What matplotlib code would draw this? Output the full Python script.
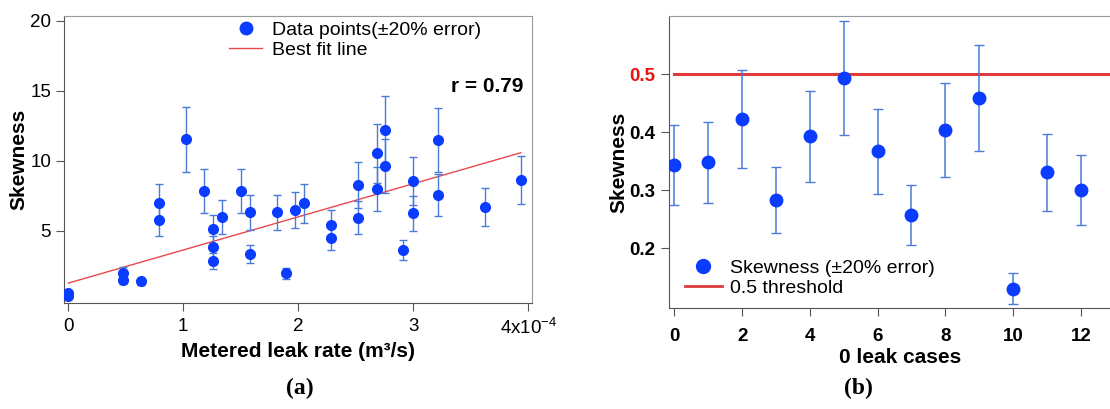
import matplotlib
matplotlib.use("Agg")
import matplotlib.pyplot as plt
from matplotlib.lines import Line2D
import numpy as np

plt.rcParams['font.family'] = ['Liberation Sans', 'DejaVu Sans']
plt.rcParams['mathtext.fontset'] = 'custom'
plt.rcParams['mathtext.rm'] = 'Liberation Sans'
plt.rcParams['mathtext.it'] = 'Liberation Sans:italic'
plt.rcParams['mathtext.bf'] = 'Liberation Sans:bold'

# (a) metered leak rate (x1e-4 m3/s) vs skewness
leak_rate = [0, 0, 0.473, 0.473, 0.63, 0.789, 0.789, 1.023, 1.183, 1.261, 1.261, 1.261,
             1.339, 1.499, 1.58, 1.58, 1.812, 1.89, 1.971, 2.047, 2.284, 2.284, 2.522,
             2.522, 2.682, 2.682, 2.757, 2.757, 2.913, 2.995, 2.995, 3.215, 3.215, 3.623, 3.934]
skew_a = [0.35, 0.55, 2.0, 1.46, 1.38, 6.96, 5.74, 11.53, 7.86, 5.1, 3.84, 2.84,
          6.0, 7.86, 6.31, 3.34, 6.31, 1.95, 6.46, 6.96, 5.38, 4.5, 8.26,
          5.93, 10.55, 7.98, 12.17, 9.64, 3.62, 8.57, 6.26, 11.46, 7.57, 6.69, 8.62]
fit_x = [0, 3.934]
fit_y = [1.26, 10.57]
xticks_a = [0, 1, 2, 3, 4]
xticklabels_a = ['0', '1', '2', '3', r'4x10$^{-4}$']
yticks_a = [5, 10, 15, 20]

# (b) zero leak cases
cases = list(range(13))
skew_b = [0.343, 0.348, 0.422, 0.284, 0.393, 0.493, 0.367, 0.257, 0.404, 0.459,
          0.131, 0.331, 0.300]
threshold = 0.5
err_frac = 0.2

dot_c = '#0a3cff'
err_c = '#4a7bd8'
red = '#e8474c'

fig = plt.figure(figsize=(11.1, 4.09), dpi=100)
W, H = 1110, 409

def box(l, t, r, b):
    return [l / W, 1 - b / H, (r - l) / W, (b - t) / H]

# ---- panel a
ax1 = fig.add_axes(box(63.7, 15.7, 532.3, 302.7))
ya = np.array(skew_a)
ax1.errorbar(leak_rate, ya, yerr=err_frac * ya, fmt='o', color=dot_c, ms=7,
             ecolor=err_c, elinewidth=1, capsize=3, capthick=1, zorder=3)
ax1.plot(fit_x, fit_y, color=red, lw=1, zorder=2)
ax1.set_xlim(-0.04, 4.035)
ax1.set_ylim(-0.14, 20.36)
ax1.set_xticks(xticks_a)
ax1.set_xticklabels(xticklabels_a)
ax1.set_yticks(yticks_a)
ax1.tick_params(labelsize=13.5, length=6, color='#555555', direction='out')
ax1.tick_params(axis='x', pad=5)
ax1.tick_params(axis='y', pad=3)
ax1.set_xlabel('Metered leak rate (m³/s)', fontsize=15, fontweight='bold', labelpad=3)
ax1.set_ylabel('Skewness', fontsize=15, fontweight='bold', labelpad=1.5)
ax1.text(0.982, 0.755, 'r = 0.79', transform=ax1.transAxes, ha='right', va='center',
         fontsize=15, fontweight='bold')
h1 = [Line2D([], [], marker='o', ls='none', color=dot_c, ms=9),
      Line2D([], [], color=red, lw=1)]
fig.legend(h1, ['Data points(±20% error)', 'Best fit line'], loc='upper left',
           bbox_to_anchor=(229 / W, 1 - 21 / H), frameon=False, fontsize=14,
           handlelength=1.7, handletextpad=0.5, labelspacing=0.15, borderpad=0,
           borderaxespad=0)

# ---- panel b
ax2 = fig.add_axes(box(669.3, 16, 669.3 + 13.65 * 33.87, 308.3))
yb = np.array(skew_b)
ax2.errorbar(cases, yb, yerr=err_frac * yb, fmt='o', color=dot_c, ms=9,
             ecolor=err_c, elinewidth=1.1, capsize=3.6, capthick=1, zorder=3)
ax2.plot([0, 14], [threshold, threshold], color='#e03a3a', lw=2.2, zorder=2)
ax2.set_xlim(-0.15, 13.5)
ax2.set_ylim(0.097, 0.6)
ax2.set_xticks(range(0, 13, 2))
ax2.set_yticks([0.2, 0.3, 0.4, 0.5])
ax2.set_yticklabels(['0.2', '0.3', '0.4', '0.5'])
ax2.tick_params(labelsize=13.5, length=6, color='#555555', direction='out')
ax2.tick_params(axis='x', pad=8)
ax2.tick_params(axis='y', pad=4)
for lab in ax2.get_xticklabels() + ax2.get_yticklabels():
    lab.set_fontweight('bold')
ax2.get_yticklabels()[-1].set_color('#ee1111')
ax2.set_xlabel('0 leak cases', fontsize=15, fontweight='bold', labelpad=2)
ax2.set_ylabel('Skewness', fontsize=15, fontweight='bold', labelpad=0.5)
h2 = [Line2D([], [], marker='o', ls='none', color=dot_c, ms=10),
      Line2D([], [], color='#e03a3a', lw=2)]
fig.legend(h2, ['Skewness (±20% error)', '0.5 threshold'], loc='upper left',
           bbox_to_anchor=(685 / W, 1 - 259 / H), frameon=False, fontsize=14,
           handlelength=1.9, handletextpad=0.4, labelspacing=0.15, borderpad=0,
           borderaxespad=0)

for ax in (ax1, ax2):
    for s in ('left', 'bottom'):
        ax.spines[s].set_color('#555555')
    for s in ('top', 'right'):
        ax.spines[s].set_color('#999999')

fig.text(300 / W, 1 - 388 / H, '(a)', fontsize=17, fontweight='bold',
         family='Liberation Serif', ha='center', va='center')
fig.text(858 / W, 1 - 388 / H, '(b)', fontsize=17, fontweight='bold',
         family='Liberation Serif', ha='center', va='center')

fig.savefig('out.png', dpi=100)
